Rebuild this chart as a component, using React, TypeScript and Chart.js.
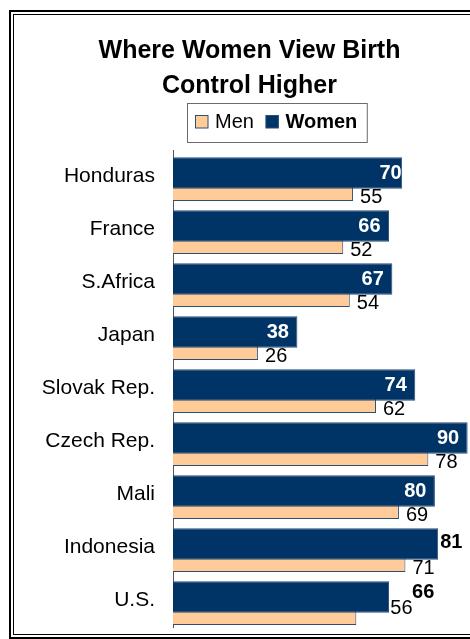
import React, { useEffect, useRef } from 'react';
import { Chart, registerables } from 'chart.js';

Chart.register(...registerables);

// ---- data ----
const categories = ['Honduras', 'France', 'S.Africa', 'Japan', 'Slovak Rep.', 'Czech Rep.', 'Mali', 'Indonesia', 'U.S.'];
const womenValues = [70, 66, 67, 38, 74, 90, 80, 81, 66];
const menValues = [55, 52, 54, 26, 62, 78, 69, 71, 56];
const seriesNames = ['Men', 'Women'];
const titleLines = ['Where Women View Birth', 'Control Higher'];

// ---- styling ----
const FONT = "'Liberation Sans', Arial, Helvetica, sans-serif";
const NAVY = '#003366';
const PEACH = '#FFCC99';
const BAR_EDGE = '#2d4d73';

// label placement tweaks (not data)
const womenOutside = ['Indonesia', 'U.S.'];
const labelNudges: Record<string, { w?: [number, number]; m?: [number, number] }> = {
  Honduras: { w: [8, 0] },
  Indonesia: { w: [0, -2] },
  'U.S.': { w: [21, -5], m: [27, -13] },
};

const valueLabels = {
  id: 'valueLabels',
  afterDatasetsDraw(chart: any) {
    const ctx = chart.ctx as CanvasRenderingContext2D;
    const wMeta = chart.getDatasetMeta(0);
    const mMeta = chart.getDatasetMeta(1);
    ctx.save();
    ctx.textBaseline = 'middle';
    categories.forEach((cat, i) => {
      const nudge = labelNudges[cat] || {};
      const w = wMeta.data[i].getProps(['x', 'y', 'height'], true);
      const m = mMeta.data[i].getProps(['x', 'y', 'height'], true);
      const [wdx, wdy] = nudge.w || [0, 0];
      ctx.font = `bold 20px ${FONT}`;
      if (womenOutside.includes(cat)) {
        ctx.fillStyle = '#000';
        ctx.textAlign = 'left';
        ctx.fillText(String(womenValues[i]), w.x + 2 + wdx, w.y + wdy);
      } else {
        ctx.fillStyle = '#fff';
        ctx.textAlign = 'right';
        ctx.fillText(String(womenValues[i]), w.x - 8.5 + wdx, w.y + wdy);
      }
      const [mdx, mdy] = nudge.m || [0, 0];
      ctx.font = `20px ${FONT}`;
      ctx.fillStyle = '#000';
      ctx.textAlign = 'left';
      ctx.fillText(String(menValues[i]), m.x + 7 + mdx, m.y + m.height / 2 - 3 + mdy);
    });
    ctx.restore();
  },
};

const boxLegend = {
  id: 'boxLegend',
  afterDraw(chart: any) {
    const ctx = chart.ctx as CanvasRenderingContext2D;
    const top = 86;
    const height = 39;
    const cx = 261.5;
    const sq = 12.5;
    const gap = 7;
    const spacing = 12;
    const padL = 8;
    const padR = 10;
    const items = [
      { text: seriesNames[0], fill: PEACH, bold: false },
      { text: seriesNames[1], fill: NAVY, bold: true },
    ];
    ctx.save();
    const widths = items.map((it) => {
      ctx.font = `${it.bold ? 'bold ' : ''}20px ${FONT}`;
      return ctx.measureText(it.text).width;
    });
    let total = padL + padR;
    items.forEach((_, k) => {
      total += sq + gap + widths[k];
      if (k < items.length - 1) total += spacing;
    });
    const left = Math.round(cx - total / 2) + 0.5;
    ctx.fillStyle = '#fff';
    ctx.fillRect(left, top + 0.5, total, height);
    ctx.strokeStyle = '#6b6b6b';
    ctx.lineWidth = 1;
    ctx.strokeRect(left, top + 0.5, total, height);
    let x = left + padL;
    items.forEach((it, k) => {
      const sy = top + 12.5;
      ctx.fillStyle = it.fill;
      ctx.fillRect(x, sy, sq, sq);
      ctx.strokeStyle = BAR_EDGE;
      ctx.strokeRect(x, sy, sq, sq);
      x += sq + gap;
      ctx.font = `${it.bold ? 'bold ' : ''}20px ${FONT}`;
      ctx.fillStyle = '#000';
      ctx.textAlign = 'left';
      ctx.textBaseline = 'alphabetic';
      ctx.fillText(it.text, x, top + 24.5);
      x += widths[k] + spacing;
    });
    ctx.restore();
  },
};

export default function App() {
  const ref = useRef<HTMLCanvasElement>(null);

  useEffect(() => {
    const chart = new Chart(ref.current as HTMLCanvasElement, {
      type: 'bar',
      data: {
        labels: categories,
        datasets: [
          {
            label: seriesNames[1],
            data: womenValues,
            backgroundColor: NAVY,
            borderColor: BAR_EDGE,
            borderWidth: 1,
            categoryPercentage: 0.264,
            barPercentage: 4.51,
          },
          {
            label: seriesNames[0],
            data: menValues,
            backgroundColor: PEACH,
            borderColor: BAR_EDGE,
            borderWidth: 1,
            categoryPercentage: 0.264,
            barPercentage: 5.97,
          },
        ],
      },
      options: {
        indexAxis: 'y',
        animation: false,
        responsive: false,
        events: [],
        layout: { padding: { left: 0, right: 0, top: 0, bottom: 5 } },
        scales: {
          x: { display: false, min: 0, max: 95 },
          y: {
            grid: { display: false, drawTicks: false },
            border: { display: true, color: '#555', width: 1 },
            ticks: { font: { family: FONT, size: 21 }, color: '#000', padding: 18, autoSkip: false },
            afterFit: (scale: any) => {
              scale.width = 158;
              scale.paddingTop = 0;
              scale.paddingBottom = 0;
            },
          },
        },
        plugins: {
          legend: { display: false },
          tooltip: { enabled: false },
          title: {
            display: true,
            text: titleLines,
            color: '#000',
            font: { family: FONT, size: 25, weight: 'bold', lineHeight: 35 / 25 },
            padding: { top: 17, bottom: 46 },
          },
        },
      },
      plugins: [valueLabels, boxLegend],
    } as any);
    return () => chart.destroy();
  }, []);

  return (
    <div style={{ position: 'fixed', left: 0, top: 0, width: 470, height: 639, overflow: 'hidden', background: '#fff' }}>
      <div
        style={{
          position: 'absolute',
          left: 9,
          top: 10,
          width: 600,
          height: 629,
          border: '2px solid #000',
          boxSizing: 'border-box',
        }}
      >
        <div style={{ position: 'absolute', left: 2, top: 2, right: 2, bottom: 2, border: '1px solid #000' }} />
      </div>
      <canvas
        ref={ref}
        width={469}
        height={615}
        style={{ position: 'absolute', left: 15, top: 17, width: 469, height: 615 }}
      />
    </div>
  );
}
